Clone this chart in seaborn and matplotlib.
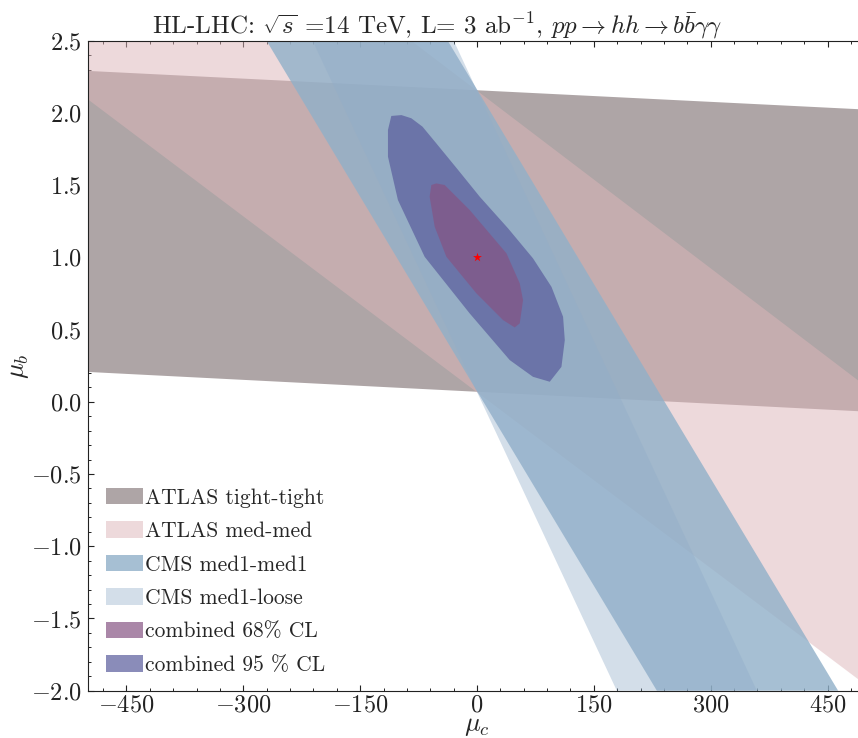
import matplotlib
matplotlib.use("Agg")
import matplotlib.pyplot as plt
import seaborn as sns
import pandas as pd
from matplotlib.patches import Patch
from matplotlib.ticker import MultipleLocator, FuncFormatter

# ---------------- data ----------------
mu_c_lim = [-500, 500]
mu_b_lim = [-2.0, 2.5]

# ATLAS tight-tight band (polygon corners)
tt_c = [-500, 500, 500, -500]
tt_b = [2.291, 2.023, -0.068, 0.207]

# ATLAS med-med band
mm_c = [-500, 500, 500, -500]
mm_b = [4.204, 0.104, -1.964, 2.096]

# CMS med1-med1 band
cms1_c = [-270.2, -37.6, 463.6, 230.9]
cms1_b = [2.5, 2.5, -2.0, -2.0]

# CMS med1-loose band
cms2_c = [-211.1, -29.9, 359.3, 179.5]
cms2_b = [2.5, 2.5, -2.0, -2.0]

# combined 95% CL contour
cl95_c = [-110.0, -97.0, -84.3, -70.0, -52.2, -25.0, 3.5, 40.0, 71.9, 95.6,
          110.5, 112.7, 108.4, 93.4, 71.9, 42.0, -9.4, -67.2, -101.5, -114.3,
          -114.3]
cl95_b = [1.979, 1.985, 1.963, 1.905, 1.789, 1.610, 1.420, 1.200, 0.993, 0.796,
          0.589, 0.427, 0.242, 0.139, 0.173, 0.289, 0.612, 1.004, 1.397, 1.697,
          1.882]

# combined 68% CL contour
cl68_c = [-52.2, -41.5, -9.4, 37.8, 54.9, 59.1, 54.9, 48.4, 33.4, -0.8,
          -39.3, -54.3, -60.8, -58.6]
cl68_b = [1.512, 1.501, 1.328, 1.028, 0.820, 0.704, 0.543, 0.515, 0.566, 0.751,
          1.004, 1.212, 1.420, 1.501]

sm_c = [0.0]
sm_b = [1.0]

labels = ["ATLAS tight-tight", "ATLAS med-med", "CMS med1-med1",
          "CMS med1-loose", "combined 68% CL", "combined 95 % CL"]

# ---------------- style ----------------
sns.set_theme(style="ticks")
plt.rcParams.update({
    "font.family": ["cmr10", "DejaVu Serif"],
    "mathtext.fontset": "cm",
    "axes.formatter.use_mathtext": True,
    "axes.unicode_minus": True,
    "axes.edgecolor": "#222222",
    "axes.linewidth": 0.8,
    "xtick.direction": "in",
    "ytick.direction": "in",
    "xtick.top": True,
    "ytick.right": True,
    "xtick.major.size": 4.5,
    "ytick.major.size": 4.5,
    "xtick.minor.size": 2.4,
    "ytick.minor.size": 2.4,
    "xtick.major.width": 0.8,
    "ytick.major.width": 0.8,
    "xtick.minor.width": 0.7,
    "ytick.minor.width": 0.7,
    "xtick.color": "#222222",
    "ytick.color": "#222222",
})

c_tt = (174/255, 165/255, 166/255)
c_mm = (221/255, 181/255, 185/255)
c_cms1 = (144/255, 176/255, 201/255)
c_cms2 = (145/255, 173/255, 201/255)
c_68 = (134/255, 84/255, 131/255)
c_95 = (89/255, 92/255, 156/255)

fig = plt.figure(figsize=(8.58, 7.38), dpi=100)
ax = fig.add_axes([87.5/858, 1 - 690.7/738, (866.5 - 87.5)/858, (690.7 - 40.7)/738])

ax.fill(tt_c, tt_b, color=c_tt, alpha=1.0, lw=0)
ax.fill(mm_c, mm_b, color=c_mm, alpha=0.5, lw=0)
ax.fill(cms1_c, cms1_b, color=c_cms1, alpha=0.8, lw=0)
ax.fill(cms2_c, cms2_b, color=c_cms2, alpha=0.4, lw=0)
ax.fill(cl95_c, cl95_b, color=c_95, alpha=0.7, lw=0)
ax.fill(cl68_c, cl68_b, color=c_68, alpha=0.7, lw=0)

sm = pd.DataFrame({"mu_c": sm_c, "mu_b": sm_b})
sns.scatterplot(data=sm, x="mu_c", y="mu_b", marker="*", color="red",
                s=45, linewidth=0, ax=ax, zorder=5)

ax.set_xlim(*mu_c_lim)
ax.set_ylim(*mu_b_lim)
ax.xaxis.set_major_locator(MultipleLocator(150))
ax.xaxis.set_minor_locator(MultipleLocator(30))
ax.yaxis.set_major_locator(MultipleLocator(0.5))
ax.yaxis.set_minor_locator(MultipleLocator(0.1))
ax.tick_params(axis="y", labelsize=17.5, pad=4)
ax.tick_params(axis="x", labelsize=17.5, pad=2.5)
ax.xaxis.set_major_formatter(FuncFormatter(lambda v, p: r"$%d$" % round(v)))
ax.yaxis.set_major_formatter(FuncFormatter(lambda v, p: r"$%.1f$" % v))

ax.set_xlabel(r"$\mu_c$", fontsize=19, labelpad=-1.5)
ax.set_ylabel(r"$\mu_b$", fontsize=19, labelpad=0)
ax.set_title(r"HL-LHC: $\sqrt{s}$ =14 TeV, L= 3 ab$^{-1}$, $pp \rightarrow hh \rightarrow b\bar{b}\gamma\gamma$",
             fontsize=18, pad=3, x=(437 - 87.5) / (866.5 - 87.5))

handles = [Patch(facecolor=c_tt, alpha=1.0, lw=0),
           Patch(facecolor=c_mm, alpha=0.5, lw=0),
           Patch(facecolor=c_cms1, alpha=0.8, lw=0),
           Patch(facecolor=c_cms2, alpha=0.4, lw=0),
           Patch(facecolor=c_68, alpha=0.7, lw=0),
           Patch(facecolor=c_95, alpha=0.7, lw=0)]
ax.legend(handles, labels, loc="lower left", frameon=False, fontsize=15.5,
          handlelength=1.7, handleheight=0.8, handletextpad=0.1,
          labelspacing=0.64, borderaxespad=0.0, borderpad=0.0,
          bbox_to_anchor=((106 - 87.5) / 779, (690.7 - 675) / 650))

fig.savefig("out.png", dpi=100)
